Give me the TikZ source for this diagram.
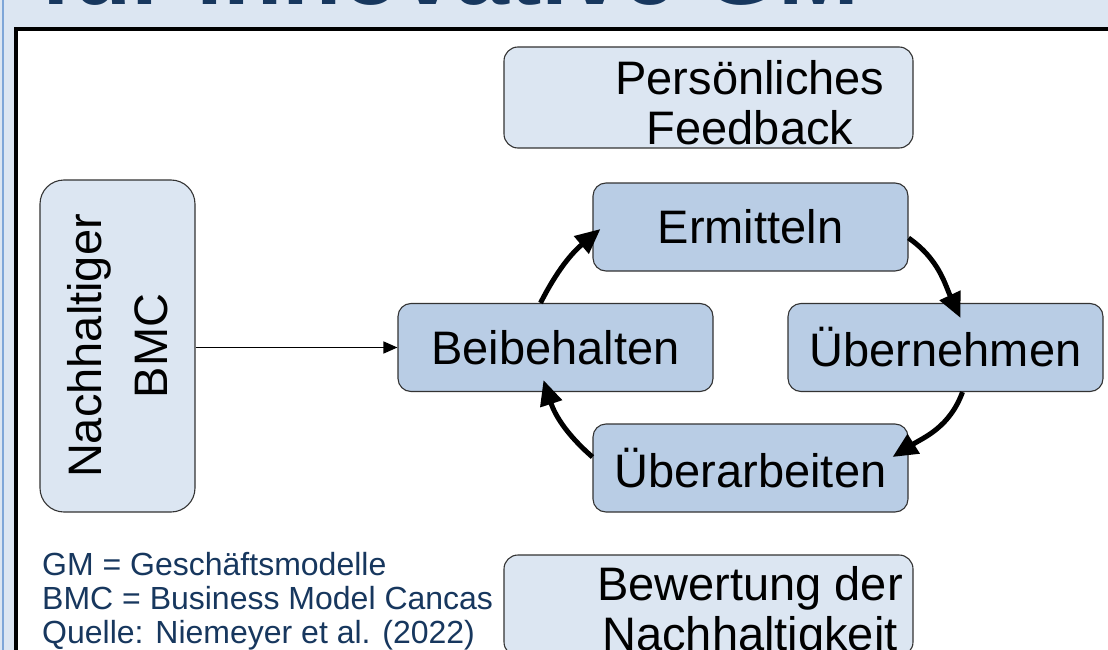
\documentclass[tikz,border=0pt]{standalone}
\usepackage{fontspec}
\setmainfont{Liberation Sans}
\usetikzlibrary{arrows.meta}
\definecolor{bgblue}{HTML}{DCE6F2}
\definecolor{boxdark}{HTML}{B9CDE5}
\definecolor{navy}{HTML}{17375E}
\definecolor{edgeblue}{HTML}{7EA6D8}
\definecolor{outline}{HTML}{333333}
\begin{document}
\begin{tikzpicture}[x=1pt,y=1pt,
  lightbox/.style={draw=outline, line width=1.1pt, fill=bgblue, rounded corners=14pt,
    inner sep=0pt, align=center, minimum width=409pt, minimum height=101pt},
  boxtext/.style={inner sep=0pt, align=center, font=\fontsize{47}{50}\selectfont},
  cyclebox/.style={draw=outline, line width=1.1pt, fill=boxdark, rounded corners=13pt,
    minimum width=315pt, minimum height=88pt, inner sep=0pt,
    font=\fontsize{47}{54}\selectfont},
  cyc/.style={line width=5pt, -{Triangle[length=25pt,width=22pt]}},
  feed/.style={line width=1.5pt, -{Triangle[length=14pt,width=12pt]}},
  note/.style={anchor=north west, align=left, inner sep=0pt, text=navy,
    font=\fontsize{32}{34}\selectfont}
]
\useasboundingbox (0,0) rectangle (1108,-650);
\fill[bgblue] (0,0) rectangle (1108,-650);
\draw[edgeblue, line width=2pt] (2.5,0) -- (2.5,-650);
\begin{scope}
\clip (0,0) rectangle (1108,-650);
\node[anchor=base west, inner sep=0pt, text=navy,
  font=\fontsize{97}{100}\selectfont\bfseries] (title) at (40,-5) {für innovative GM};
\fill[white] (16,-29) rectangle (1115,-660);
\draw[line width=4pt] (1115,-29) -- (16,-29) -- (16,-660);
\node[lightbox] (fb) at (708.5,-97.5) {};
\node[boxtext] (fbtext) at (750,-103) {Persönliches\\Feedback};
\node[lightbox] (bew) at (708.5,-605.5) {};
\node[boxtext] (bewtext) at (750,-613) {Bewertung der\\Nachhaltigkeit};
\node[lightbox, rotate=90, minimum width=332pt, minimum height=155pt, rounded corners=24pt,
  font=\fontsize{47}{66}\selectfont] (bmc) at (117.5,-346) {Nachhaltiger\\BMC};
\node[cyclebox] (erm) at (750.5,-227) {Ermitteln};
\node[cyclebox] (bei) at (555.5,-347.5) {Beibehalten};
\node[cyclebox] (ueb) at (945.5,-347.5) {Übernehmen};
\node[cyclebox] (uea) at (750.5,-468) {Überarbeiten};
\node[note] (notes) at (42,-552) {GM = Geschäftsmodelle\\BMC = Business Model Cancas\\Quelle: Niemeyer et al. (2022)};
\draw[feed] (bmc.south |- bei.west) -- (bei.west);
\draw[cyc] ([xshift=-15pt]bei.north) to[out=63,in=220] ([xshift=8pt,yshift=-2pt]erm.west);
\draw[cyc] ([yshift=-11pt]erm.east) to[out=-35,in=115] ([xshift=15pt,yshift=-15pt]ueb.north);
\draw[cyc] ([xshift=17pt]ueb.south) to[out=-110,in=32] ([xshift=-16pt,yshift=11pt]uea.east);
\draw[cyc] ([yshift=11pt]uea.west) to[out=139,in=-72] ([xshift=-12pt,yshift=12pt]bei.south);
\end{scope}
\end{tikzpicture}
\end{document}
